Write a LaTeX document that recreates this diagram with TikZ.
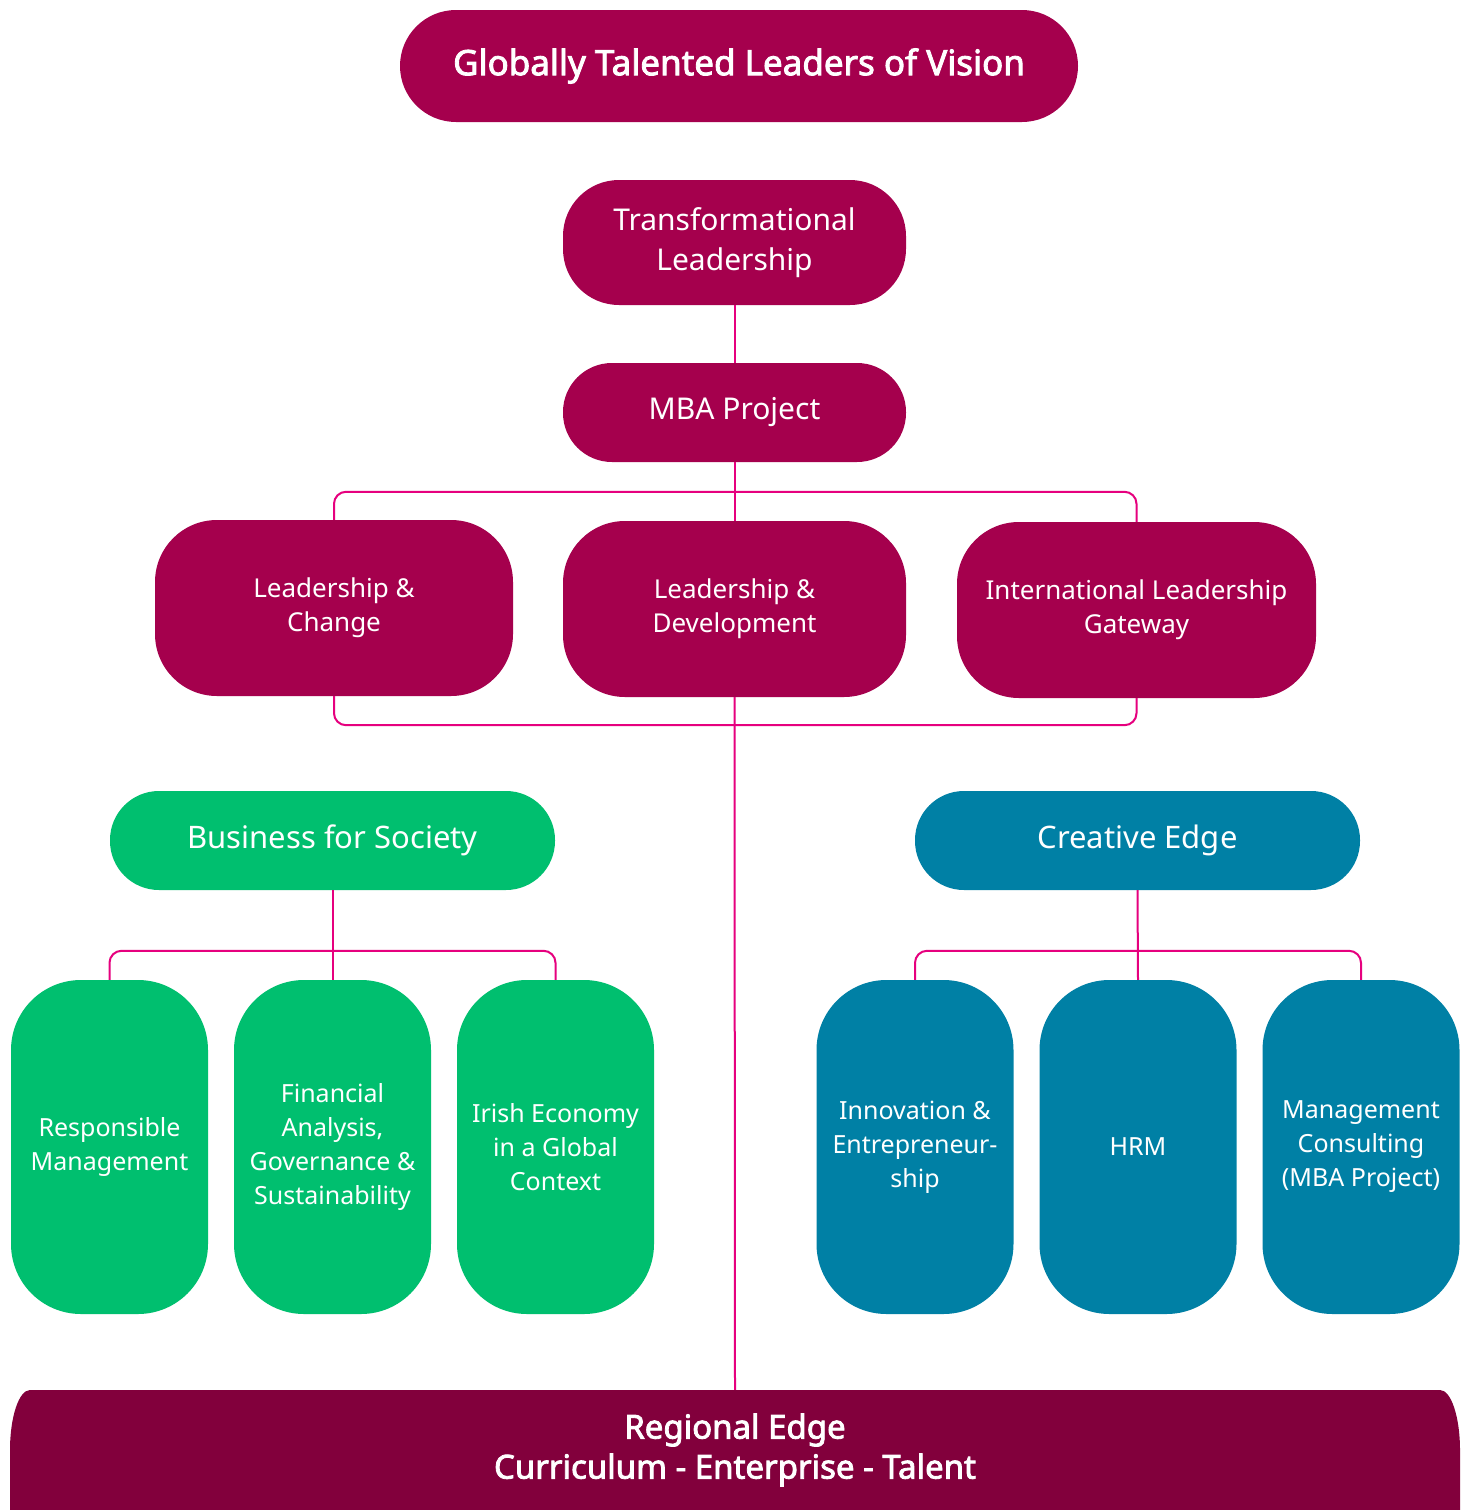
\documentclass[tikz,border=0pt]{standalone}
\usepackage{fontspec}
\setmainfont{Noto Sans}[AutoFakeBold=2.5]
\definecolor{mag}{HTML}{A5004D}
\definecolor{darkmag}{HTML}{82003C}
\definecolor{grn}{HTML}{00BF6F}
\definecolor{blu}{HTML}{0080A5}
\definecolor{pink}{HTML}{E6007E}
\begin{document}
\begin{tikzpicture}[x=1pt,y=-1pt,
  box/.style={fill=#1, text=white, inner sep=0pt, align=center},
  conn/.style={draw=pink, line width=2pt},
  fs/.style 2 args={font=\fontsize{#1}{#2}\selectfont},
  bfs/.style 2 args={font=\fontsize{#1}{#2}\selectfont\bfseries}]
\useasboundingbox (0,0) rectangle (1466,1510);
\clip (0,0) rectangle (1466,1510);
\fill[white] (0,0) rectangle (1466,1510);

% top
\node[box=mag, rounded corners=56, minimum width=678, minimum height=112, bfs={35}{40}] (top) at (739,66) {Globally Talented Leaders of Vision};
\node[box=mag, rounded corners=56, minimum width=343, minimum height=125, fs={30}{40}] (tl) at (734.5,242.5) {Transformational\\Leadership};
\node[box=mag, rounded corners=49, minimum width=343, minimum height=99, fs={30}{36}] (mba) at (734.5,412.5) {MBA Project};

% row of three
\node[box=mag, rounded corners=62, minimum width=358, minimum height=176, fs={26}{34}] (lc) at (334,608) {Leadership \&\\Change};
\node[box=mag, rounded corners=62, minimum width=343, minimum height=176, fs={26}{34}] (ld) at (734.5,609) {Leadership \&\\Development};
\node[box=mag, rounded corners=62, minimum width=359, minimum height=176, fs={26}{34}] (ilg) at (1136.5,610) {International Leadership\\Gateway};

% pillars
\node[box=grn, rounded corners=49, minimum width=445, minimum height=99, fs={31}{36}] (bfs) at (332.5,840.5) {Business for Society};
\node[box=blu, rounded corners=49, minimum width=445, minimum height=99, fs={31}{36}] (ce) at (1137.5,840.5) {Creative Edge};

\tikzset{tall/.style={box=#1, rounded corners=70, minimum width=197, minimum height=334, fs={25}{34}}}
\node[tall=grn] (rm) at (109.5,1147) {Responsible\\Management};
\node[tall=grn] (fa) at (332.5,1147) {Financial\\Analysis,\\Governance \&\\Sustainability};
\node[tall=grn] (ie) at (555.5,1147) {Irish Economy\\in a Global\\Context};
\node[tall=blu] (in) at (915,1147) {Innovation \&\\Entrepreneur-\\ship};
\node[tall=blu] (hrm) at (1138,1147) {HRM};
\node[tall=blu] (mc) at (1361,1147) {Management\\Consulting\\(MBA Project)};

% bottom band
\fill[darkmag] (10,1530) -- (10,1450) arc[start angle=180,end angle=270,x radius=20,y radius=60]
  -- (1440,1390) arc[start angle=270,end angle=360,x radius=20,y radius=60] -- (1460,1530) -- cycle;
\node[text=white, inner sep=0pt, align=center, minimum height=120, bfs={33}{40}] (re) at (735,1450) {Regional Edge\\Curriculum - Enterprise - Talent};

% connectors
\draw[conn] (tl.south) -- (mba.north);
\draw[conn] (mba.south) -- (ld.north);
\draw[conn, rounded corners=12] (lc.north) -- ++(0,-28) -| (ilg.north);
\draw[conn, rounded corners=12] (lc.south) -- ++(0,29) -| (ilg.south);
\draw[conn] (ld.south) -- (re.north);
\draw[conn] (bfs.south) -- (fa.north);
\draw[conn, rounded corners=12] (rm.north) -- ++(0,-29) -| (ie.north);
\draw[conn] (ce.south) -- (hrm.north);
\draw[conn, rounded corners=12] (in.north) -- ++(0,-29) -| (mc.north);
\end{tikzpicture}
\end{document}
